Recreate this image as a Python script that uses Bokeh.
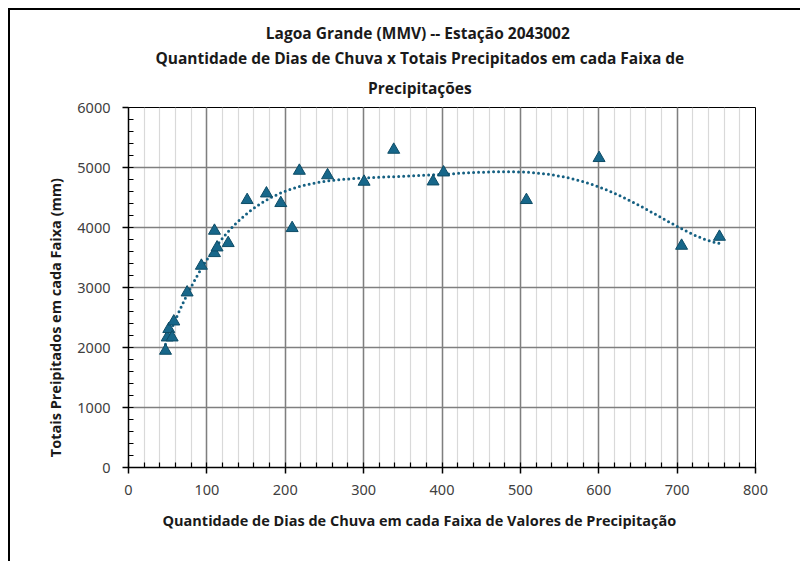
import numpy as np
from bokeh.plotting import figure
from bokeh.models import (ColumnDataSource, Title, SingleIntervalTicker, InlineStyleSheet)
from bokeh.embed import file_html
from bokeh.resources import INLINE

# ---- data ----
dias = [47.2, 49.4, 51.4, 55.7, 57.8, 74.8, 93.0, 109.7, 109.7, 113.0, 127.2,
        151.4, 176.0, 194.3, 208.8, 218.0, 254.0, 300.6, 338.4, 388.6, 402.0,
        507.7, 600.4, 705.7, 754.0]
totais = [1945, 2167, 2307, 2167, 2433, 2917, 3362, 3945, 3573, 3667, 3740,
          4457, 4567, 4407, 3990, 4945, 4870, 4762, 5295, 4767, 4917,
          4457, 5157, 3695, 3845]

title_lines = ["Lagoa Grande (MMV) --  Estação 2043002",
               "Quantidade de Dias de Chuva x Totais Precipitados em cada Faixa de",
               "Precipitações"]
x_label = "Quantidade de Dias de Chuva em cada Faixa de Valores de Precipitação"
y_label = "Totais Preipitados em cada Faixa (mm)"

# polynomial trend line fitted to the points (as the spreadsheet does)
coef = np.polyfit(dias, totais, 6)
xt = np.linspace(min(dias), max(dias), 300)
yt = np.polyval(coef, xt)

src = ColumnDataSource(dict(x=dias, y=totais))
trend = ColumnDataSource(dict(x=xt, y=yt))

p = figure(frame_width=627, frame_height=360, x_range=(0, 800), y_range=(0, 6000),
           output_backend="svg", toolbar_location=None,
           min_border_left=128, min_border_top=107, min_border_right=45,
           min_border_bottom=94, background_fill_color="white",
           border_fill_color=None)
p.stylesheets = [InlineStyleSheet(
    css=":host { box-shadow: inset 8px 8px 0 0 #fff, inset 10px 10px 0 0 #000; }")]

p.outline_line_color = "black"
p.outline_line_width = 1

# titles (added nearest-first); padding on the right moves the centred text left
nb = "\u00a0"
for txt, so, va in [(title_lines[2], 14, "top"), (title_lines[1], 1, "bottom"),
                    (title_lines[0], 1, "bottom")]:
    p.add_layout(Title(text=txt + nb * 11, align="center", vertical_align=va,
                       text_font="Open Sans",
                       text_font_size="15.5px", text_font_style="bold",
                       text_line_height=1.0, text_color="#1a1a1a",
                       standoff=so), "above")

p.xaxis.axis_label = x_label + nb * 12
p.yaxis.axis_label = y_label + nb * 16

for ax, iv in [(p.xaxis, 100), (p.yaxis, 1000)]:
    ax.ticker = SingleIntervalTicker(interval=iv, num_minor_ticks=5)
    ax.axis_line_color = "black"
    ax.axis_line_width = 1.5
    ax.major_tick_line_color = "black"
    ax.minor_tick_line_color = "black"
    ax.major_tick_line_width = 1.5
    ax.minor_tick_line_width = 1.2
    ax.major_tick_out = 6
    ax.major_tick_in = 0
    ax.minor_tick_in = 5
    ax.minor_tick_out = 0
    ax.major_label_text_font = "Noto Sans"
    ax.major_label_text_font_size = "14.5px"
    ax.major_label_text_color = "#404040"
    ax.axis_label_text_font = "Open Sans"
    ax.axis_label_text_font_size = "14.5px"
    ax.axis_label_text_font_style = "bold"
    ax.axis_label_text_color = "#1a1a1a"

p.xaxis.major_label_standoff = 11
p.yaxis.major_label_standoff = 12
p.xaxis.axis_label_standoff = 13
p.yaxis.axis_label_standoff = 9

p.xgrid.ticker = SingleIntervalTicker(interval=100, num_minor_ticks=5)
p.xgrid.grid_line_color = "#7f7f7f"
p.xgrid.grid_line_width = 1.5
p.xgrid.minor_grid_line_color = "#d9d9d9"
p.xgrid.minor_grid_line_width = 1.2
p.ygrid.ticker = SingleIntervalTicker(interval=1000)
p.ygrid.grid_line_color = "#7f7f7f"
p.ygrid.grid_line_width = 1.5

p.line("x", "y", source=trend, line_color="#156082", line_width=3,
       line_dash="0 5", line_cap="round")
p.scatter("x", "y", source=src, marker="triangle", size=12,
          fill_color="#17678a", line_color="#0e4c66", line_width=1)

open("out.html", "w").write(file_html(p, INLINE))
